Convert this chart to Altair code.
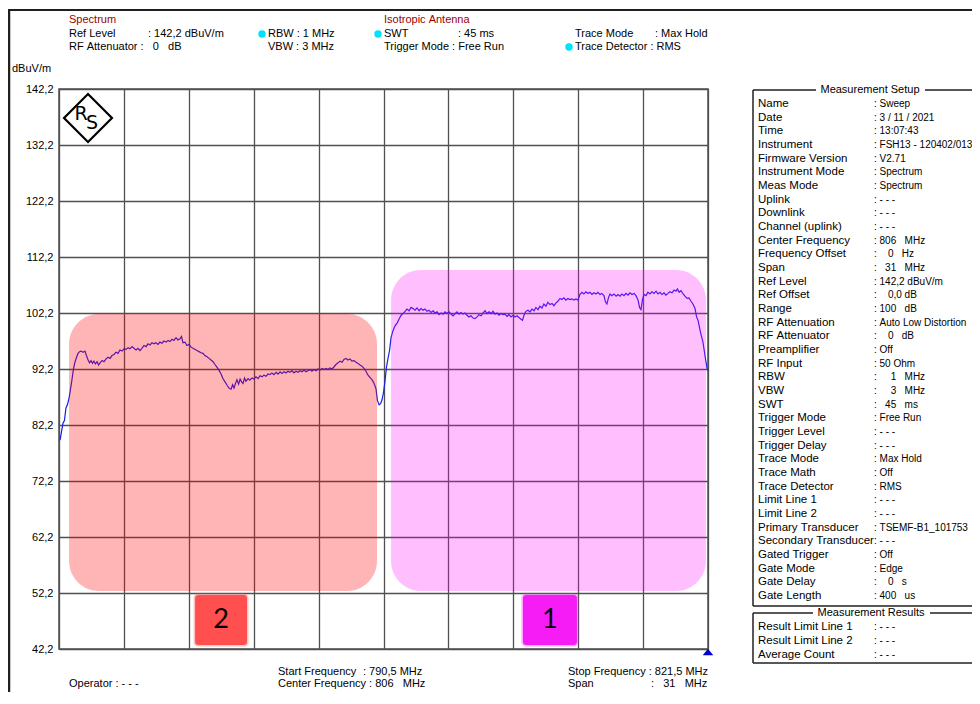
import altair as alt
import pandas as pd

# ---------------- data ----------------
FREQ_MHZ = [
    790.55, 790.62, 790.69, 790.76, 790.83, 790.90, 790.98, 791.05, 791.12, 791.19,
    791.26, 791.34, 791.41, 791.48, 791.55, 791.65, 791.74, 791.81, 791.89, 791.96,
    792.03, 792.10, 792.17, 792.24, 792.32, 792.39, 792.46, 792.56, 792.65, 792.75,
    792.84, 792.94, 793.03, 793.13, 793.22, 793.32, 793.41, 793.51, 793.60, 793.70,
    793.80, 793.89, 793.99, 794.08, 794.18, 794.27, 794.37, 794.46, 794.56, 794.66,
    794.75, 794.85, 794.94, 795.04, 795.13, 795.23, 795.32, 795.42, 795.51, 795.61,
    795.71, 795.80, 795.90, 795.99, 796.09, 796.18, 796.28, 796.35, 796.42, 796.52,
    796.61, 796.71, 796.81, 796.90, 797.00, 797.09, 797.19, 797.28, 797.38, 797.47,
    797.57, 797.67, 797.76, 797.86, 797.95, 798.05, 798.14, 798.24, 798.33, 798.43,
    798.53, 798.62, 798.72, 798.79, 798.86, 798.93, 799.00, 799.08, 799.15, 799.22,
    799.29, 799.36, 799.43, 799.53, 799.62, 799.72, 799.81, 799.91, 800.01, 800.10,
    800.20, 800.29, 800.39, 800.48, 800.58, 800.67, 800.77, 800.87, 800.96, 801.06,
    801.15, 801.25, 801.34, 801.44, 801.53, 801.63, 801.72, 801.82, 801.92, 802.01,
    802.11, 802.20, 802.30, 802.39, 802.49, 802.58, 802.68, 802.78, 802.87, 802.97,
    803.06, 803.16, 803.25, 803.35, 803.44, 803.54, 803.64, 803.73, 803.83, 803.92,
    804.02, 804.11, 804.21, 804.30, 804.40, 804.49, 804.59, 804.69, 804.78, 804.88,
    804.97, 805.07, 805.16, 805.26, 805.35, 805.45, 805.55, 805.64, 805.71, 805.79,
    805.86, 805.93, 806.00, 806.07, 806.14, 806.22, 806.29, 806.36, 806.45, 806.55,
    806.65, 806.74, 806.84, 806.93, 807.03, 807.12, 807.22, 807.32, 807.41, 807.51,
    807.60, 807.70, 807.79, 807.89, 807.98, 808.08, 808.17, 808.27, 808.37, 808.46,
    808.56, 808.65, 808.75, 808.84, 808.94, 809.03, 809.13, 809.23, 809.32, 809.42,
    809.51, 809.61, 809.70, 809.80, 809.89, 809.99, 810.08, 810.18, 810.28, 810.37,
    810.47, 810.56, 810.66, 810.75, 810.85, 810.94, 811.04, 811.14, 811.23, 811.33,
    811.42, 811.52, 811.61, 811.71, 811.80, 811.90, 811.99, 812.09, 812.19, 812.28,
    812.38, 812.47, 812.57, 812.64, 812.71, 812.80, 812.90, 813.00, 813.09, 813.19,
    813.28, 813.38, 813.47, 813.57, 813.66, 813.76, 813.85, 813.95, 814.05, 814.14,
    814.24, 814.33, 814.43, 814.52, 814.62, 814.71, 814.81, 814.90, 815.00, 815.10,
    815.19, 815.29, 815.38, 815.48, 815.57, 815.67, 815.76, 815.86, 815.96, 816.05,
    816.15, 816.24, 816.34, 816.43, 816.53, 816.60, 816.67, 816.75, 816.82, 816.91,
    817.01, 817.11, 817.20, 817.30, 817.39, 817.49, 817.58, 817.68, 817.77, 817.87,
    817.97, 818.06, 818.16, 818.23, 818.30, 818.37, 818.44, 818.54, 818.63, 818.73,
    818.82, 818.92, 819.02, 819.11, 819.21, 819.30, 819.40, 819.49, 819.59, 819.68,
    819.78, 819.88, 819.97, 820.04, 820.12, 820.21, 820.31, 820.40, 820.50, 820.59,
    820.69, 820.78, 820.88, 820.95, 821.03, 821.10, 821.17, 821.25, 821.32, 821.39,
    821.46, 821.50,
]
LEVEL_DBUV = [
    79.5, 81.0, 82.5, 83.0, 85.2, 85.8, 87.0, 88.6, 90.3, 92.2,
    93.4, 94.3, 95.0, 95.3, 95.4, 95.2, 95.4, 94.6, 93.8, 93.3,
    93.7, 93.2, 93.6, 93.1, 93.5, 92.9, 93.3, 93.7, 93.5, 94.0,
    94.3, 94.1, 94.6, 94.8, 95.2, 95.0, 95.6, 95.4, 95.8, 95.7,
    96.0, 95.8, 96.2, 95.9, 95.6, 95.9, 95.5, 95.9, 96.4, 96.2,
    96.7, 96.5, 96.9, 96.7, 96.9, 96.6, 97.0, 96.8, 97.2, 97.0,
    97.3, 97.1, 97.5, 97.3, 97.8, 97.4, 97.6, 98.0, 96.9, 97.0,
    96.4, 96.6, 96.1, 95.9, 95.7, 95.5, 95.3, 95.1, 95.0, 94.6,
    94.4, 94.1, 93.8, 93.5, 93.0, 92.5, 92.0, 91.3, 90.5, 89.9,
    89.3, 88.8, 88.6, 89.4, 88.8, 89.6, 90.3, 89.5, 90.4, 89.9,
    89.6, 90.6, 90.0, 90.5, 90.2, 90.6, 90.4, 90.8, 90.5, 91.0,
    90.8, 91.1, 90.9, 91.3, 91.2, 91.5, 91.2, 91.6, 91.3, 91.7,
    91.4, 91.7, 91.5, 91.8, 91.6, 91.9, 91.5, 91.8, 91.6, 91.9,
    91.7, 92.0, 91.7, 91.9, 92.1, 91.8, 92.1, 91.9, 92.2, 92.0,
    92.3, 92.1, 92.3, 92.1, 92.4, 92.2, 92.6, 93.0, 93.3, 93.6,
    93.4, 93.9, 94.1, 93.8, 94.0, 93.6, 93.7, 93.4, 93.2, 92.9,
    92.7, 92.3, 91.8, 91.1, 90.7, 90.3, 89.6, 88.7, 86.6, 85.8,
    86.0, 86.7, 88.0, 90.0, 92.5, 94.2, 95.5, 97.8, 99.0, 99.9,
    100.4, 101.1, 101.8, 102.1, 102.5, 102.9, 102.6, 103.2, 103.0, 102.7,
    103.1, 102.6, 103.0, 102.7, 102.9, 102.5, 102.7, 102.3, 102.6, 102.2,
    102.4, 101.9, 102.2, 102.0, 102.4, 102.1, 102.4, 102.0, 101.7, 102.1,
    102.4, 102.0, 102.3, 102.0, 102.2, 101.8, 101.5, 101.7, 101.3, 101.2,
    101.5, 101.9, 101.7, 102.2, 102.6, 102.1, 102.4, 102.1, 102.5, 102.0,
    102.2, 101.8, 102.1, 101.9, 102.0, 101.6, 101.9, 101.5, 101.8, 101.5,
    101.7, 101.4, 101.1, 100.9, 101.8, 102.5, 102.7, 102.4, 102.9, 102.6,
    103.2, 102.8, 103.4, 103.1, 103.8, 103.4, 104.1, 103.7, 103.9, 103.5,
    104.0, 104.3, 104.8, 104.6, 104.9, 104.5, 104.8, 104.6, 104.7, 104.5,
    104.7, 104.5, 105.5, 105.9, 105.6, 106.0, 105.7, 105.9, 105.5, 105.8,
    105.6, 105.9, 105.5, 105.7, 105.3, 104.2, 103.8, 105.0, 105.6, 105.3,
    105.6, 105.2, 105.5, 105.2, 105.6, 105.3, 105.7, 105.4, 105.8, 105.5,
    105.7, 105.3, 104.5, 103.2, 102.8, 104.6, 105.5, 105.3, 105.9, 105.6,
    106.0, 105.7, 106.1, 105.6, 105.9, 105.5, 105.8, 105.4, 105.7, 106.0,
    105.8, 106.3, 106.1, 106.5, 105.9, 106.2, 105.6, 105.2, 104.8, 104.9,
    104.3, 103.8, 103.0, 101.6, 100.8, 99.5, 98.3, 97.2, 95.5, 93.8,
    92.2, 91.9,
]

START_MHZ, STOP_MHZ = 790.5, 821.5
REF_LEVEL, BOTTOM_LEVEL = 142.2, 42.2
X_GRID = [790.5, 793.6, 796.7, 799.8, 802.9, 806.0, 809.1, 812.2, 815.3, 818.4, 821.5]
Y_GRID = [42.2, 52.2, 62.2, 72.2, 82.2, 92.2, 102.2, 112.2, 122.2, 132.2, 142.2]

# highlighted zones (frequency / level extents) and their labels
ZONE_NAMES = ["2", "1"]
ZONE_F0 = [790.98, 806.36]
ZONE_F1 = [805.69, 821.40]
ZONE_L0 = [52.56, 52.56]
ZONE_L1 = [102.0, 109.9]
TAG_F0 = [797.00, 812.66]
TAG_F1 = [799.48, 815.24]
TAG_L0 = [42.9, 42.9]
TAG_L1 = [51.84, 51.84]

SETUP_NAMES = ["Name", "Date", "Time", "Instrument", "Firmware Version", "Instrument Mode",
               "Meas Mode", "Uplink", "Downlink", "Channel (uplink)", "Center Frequency",
               "Frequency Offset", "Span", "Ref Level", "Ref Offset", "Range", "RF Attenuation",
               "RF Attenuator", "Preamplifier", "RF Input", "RBW", "VBW", "SWT", "Trigger Mode",
               "Trigger Level", "Trigger Delay", "Trace Mode", "Trace Math", "Trace Detector",
               "Limit Line 1", "Limit Line 2", "Primary Transducer", "Secondary Transducer",
               "Gated Trigger", "Gate Mode", "Gate Delay", "Gate Length"]
SETUP_VALUES = [": Sweep", ": 3 / 11 / 2021", ": 13:07:43", ": FSH13 - 120402/013", ": V2.71",
                ": Spectrum", ": Spectrum", ": - - -", ": - - -", ": - - -", ": 806   MHz",
                ":    0   Hz", ":   31   MHz", ": 142,2 dBuV/m", ":    0,0 dB", ": 100   dB",
                ": Auto Low Distortion", ":    0   dB", ": Off", ": 50 Ohm", ":     1   MHz",
                ":     3   MHz", ":   45   ms", ": Free Run", ": - - -", ": - - -", ": Max Hold",
                ": Off", ": RMS", ": - - -", ": - - -", ": TSEMF-B1_101753", ": - - -", ": Off",
                ": Edge", ":    0   s", ": 400   us"]
RESULT_NAMES = ["Result Limit Line 1", "Result Limit Line 2", "Average Count"]
RESULT_VALUES = [": - - -", ": - - -", ": - - -"]

# ---------------- styling ----------------
FONT = "Liberation Sans"
GRID = "#505050"
TRACE = "#1e1ee8"
DARKRED = "#990000"
CYAN = "#00e0ff"

one = pd.DataFrame({"d": [0]})
trace_df = pd.DataFrame({"freq": FREQ_MHZ, "level": LEVEL_DBUV})

xs = alt.Scale(domain=[START_MHZ, STOP_MHZ], nice=False, zero=False)
ys = alt.Scale(domain=[BOTTOM_LEVEL, REF_LEVEL], nice=False, zero=False)
xaxis = alt.Axis(values=X_GRID, labels=False, ticks=False, domain=False, title=None,
                 grid=True, gridColor=GRID, gridWidth=1.3, gridOpacity=1)
yaxis = alt.Axis(values=Y_GRID, ticks=False, domain=False, title=None, grid=True,
                 gridColor=GRID, gridWidth=1.3, gridOpacity=1, labelPadding=6,
                 labelFont=FONT, labelFontSize=11, labelColor="black",
                 labelExpr="replace(format(datum.value, '.1f'), '.', ',')")


def nb(s):
    return s.replace(" ", "\u00a0")


def txt(s, x, y, size=11, color="black", align="left", font=FONT, weight="normal"):
    return alt.Chart(one).mark_text(
        text=nb(s), align=align, baseline="middle", font=font, fontSize=size,
        color=color, fontWeight=weight
    ).encode(x=alt.value(x), y=alt.value(y))


def rule(x1, y1, x2, y2, w=1.5, color="#202020"):
    return alt.Chart(one).mark_rule(color=color, strokeWidth=w).encode(
        x=alt.value(x1), x2=alt.value(x2), y=alt.value(y1), y2=alt.value(y2))


layers = []

# trace
layers.append(
    alt.Chart(trace_df).mark_line(color=TRACE, strokeWidth=1.2).encode(
        x=alt.X("freq:Q", scale=xs, axis=xaxis),
        y=alt.Y("level:Q", scale=ys, axis=yaxis),
    )
)

# zones (semi-transparent rounded overlays)
zone_df = pd.DataFrame({"name": ZONE_NAMES, "f0": ZONE_F0, "f1": ZONE_F1,
                        "l0": ZONE_L0, "l1": ZONE_L1})
zone_colors = {"2": ("#ff0000", 0.29), "1": ("#ff00ff", 0.25)}
for name, (col, op) in zone_colors.items():
    layers.append(
        alt.Chart(zone_df).transform_filter(alt.datum.name == name)
        .mark_rect(color=col, opacity=op, cornerRadius=30)
        .encode(x=alt.X("f0:Q", scale=xs, axis=xaxis), x2="f1:Q",
                y=alt.Y("l0:Q", scale=ys, axis=yaxis), y2="l1:Q")
    )

# tags
tag_df = pd.DataFrame({"name": ZONE_NAMES, "f0": TAG_F0, "f1": TAG_F1,
                       "l0": TAG_L0, "l1": TAG_L1})
tag_colors = {"2": "#ff4f4f", "1": "#f51cf5"}
for name, col in tag_colors.items():
    sub = alt.Chart(tag_df).transform_filter(alt.datum.name == name)
    layers.append(
        sub.mark_rect(color=col, cornerRadius=3, stroke=col, strokeWidth=3, strokeOpacity=0.35)
        .encode(x=alt.X("f0:Q", scale=xs, axis=xaxis), x2="f1:Q",
                y=alt.Y("l0:Q", scale=ys, axis=yaxis), y2="l1:Q")
    )
    layers.append(
        sub.transform_calculate(fm="(datum.f0 + datum.f1) / 2", lm="(datum.l0 + datum.l1) / 2")
        .mark_text(font="Lato", fontSize=27, color="black", baseline="middle")
        .encode(x=alt.X("fm:Q", scale=xs, axis=xaxis), y=alt.Y("lm:Q", scale=ys, axis=yaxis),
                text="name:N")
    )

# stop-frequency marker
marker_df = pd.DataFrame({"freq": [STOP_MHZ], "level": [BOTTOM_LEVEL]})
layers.append(
    alt.Chart(marker_df).mark_point(shape="M-1,0.6L1,0.6L0,-0.6Z", filled=True, size=110,
                                    color="#0000d0", opacity=1, yOffset=3)
    .encode(x=alt.X("freq:Q", scale=xs, axis=xaxis), y=alt.Y("level:Q", scale=ys, axis=yaxis))
)

# R&S logo
layers.append(alt.Chart(one).mark_point(shape="diamond", size=2300, filled=False,
                                        color="black", strokeWidth=2.2, opacity=1)
              .encode(x=alt.value(29), y=alt.value(29)))
layers.append(txt("R", 22, 25, size=19, align="center", font="DejaVu Sans"))
layers.append(txt("S", 33, 34, size=19, align="center", font="DejaVu Sans"))

# frame lines
layers.append(rule(-51, -79, 913, -79, w=2))
layers.append(rule(-50, -79, -50, 603, w=2.5))

# header
layers.append(txt("dBuV/m", -47, -20))
layers.append(txt("Spectrum", 10, -69, color=DARKRED))
layers.append(txt("Ref Level", 10, -55))
layers.append(txt(": 142,2 dBuV/m", 89, -55))
layers.append(txt("RF Attenuator :   0   dB", 10, -42))
layers.append(txt("RBW : 1 MHz", 209, -55))
layers.append(txt("VBW : 3 MHz", 209, -42))
layers.append(txt("Isotropic Antenna", 325, -69, color=DARKRED))
layers.append(txt("SWT", 325, -55))
layers.append(txt(": 45 ms", 399, -55))
layers.append(txt("Trigger Mode : Free Run", 325, -42))
layers.append(txt("Trace Mode", 516, -55))
layers.append(txt(": Max Hold", 596, -55))
layers.append(txt("Trace Detector : RMS", 516, -42))
for cx, cy in [(203, -55), (319, -55), (510, -42)]:
    layers.append(alt.Chart(one).mark_point(shape="circle", filled=True, size=55, color=CYAN,
                                            opacity=1).encode(x=alt.value(cx), y=alt.value(cy)))

# footer
layers.append(txt("Operator : - - -", 10, 595))
layers.append(txt("Start Frequency", 219, 583))
layers.append(txt(": 790,5 MHz", 304, 583))
layers.append(txt("Center Frequency : 806   MHz", 219, 595))
layers.append(txt("Stop Frequency : 821,5 MHz", 509, 583))
layers.append(txt("Span", 509, 595))
layers.append(txt(":   31   MHz", 592, 595))

# measurement setup panel
layers.append(rule(694, 1, 694, 517))
layers.append(rule(694, 517, 913, 517))
layers.append(rule(694, 1, 757, 1))
layers.append(rule(866, 1, 913, 1))
layers.append(txt("Measurement Setup", 811, 1, align="center"))
for i, (n, v) in enumerate(zip(SETUP_NAMES, SETUP_VALUES)):
    yy = 15 + i * 13.67
    layers.append(txt(n, 699, yy, size=11.5))
    layers.append(txt(v, 815, yy, size=10))

# measurement results panel
layers.append(rule(694, 524, 694, 574))
layers.append(rule(694, 574, 913, 574))
layers.append(rule(694, 524, 754, 524))
layers.append(rule(871, 524, 913, 524))
layers.append(txt("Measurement Results", 812, 524, align="center"))
for i, (n, v) in enumerate(zip(RESULT_NAMES, RESULT_VALUES)):
    yy = 538 + i * 14
    layers.append(txt(n, 699, yy, size=11.5))
    layers.append(txt(v, 815, yy, size=10))

chart = alt.layer(*layers).properties(
    width=649, height=560,
    padding={"left": 51, "top": 81, "right": 264, "bottom": 43},
    autosize=alt.AutoSizeParams(type="none"),
    background="white",
).configure_view(stroke=GRID, strokeWidth=1.5)

chart.save("out.html", embed_options={"renderer": "svg", "actions": False})
